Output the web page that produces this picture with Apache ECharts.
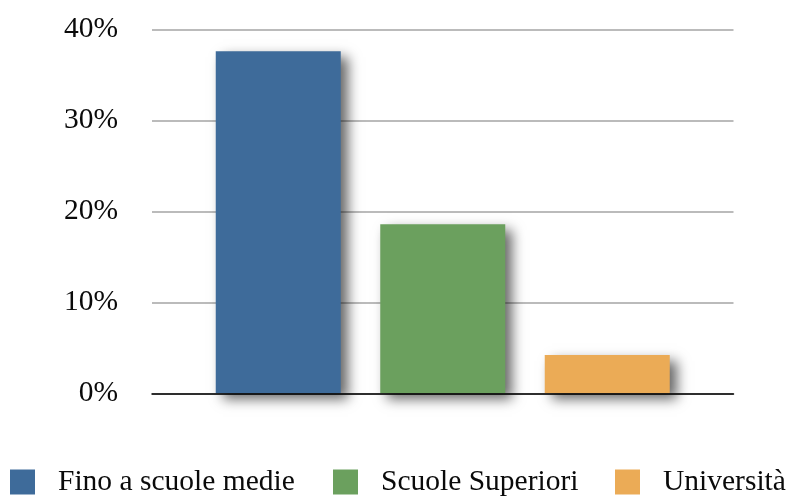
<!DOCTYPE html>
<html>
<head>
<meta charset="utf-8">
<script src="https://cdn.jsdelivr.net/npm/echarts@6/dist/echarts.min.js"></script>
<style>html,body{margin:0;padding:0;background:#fff}#c{width:790px;height:498px}</style>
</head>
<body>
<div id="c"></div>
<script>
const categories = [''];
const seriesNames = ['Fino a scuole medie', 'Scuole Superiori', 'Università'];
const seriesValues = [[37.6], [18.6], [4.2]];
const yTicks = { min: 0, max: 40, interval: 10 };
const colors = ['#3e6b9a', '#6ba05e', '#ebab56'];
const legendLefts = [10, 333, 615];

const font = '"Liberation Serif", "Times New Roman", serif';
const chart = echarts.init(document.getElementById('c'));
chart.setOption({
  animation: false,
  grid: { left: 152, right: 56.5, top: 29.5, bottom: 104.7 },
  legend: seriesNames.map((n, i) => ({
    left: legendLefts[i], top: 467, padding: 0,
    itemWidth: 25, itemHeight: 25,
    icon: 'rect', selectedMode: false,
    textStyle: { fontFamily: font, fontSize: 29.5, color: '#0a0a0a', padding: [0, 0, 0, 18] },
    data: [n]
  })),
  xAxis: {
    type: 'category', data: categories, z: 10,
    axisLine: { lineStyle: { color: '#000', width: 1.5 } },
    axisTick: { show: false }, axisLabel: { show: false }
  },
  yAxis: {
    type: 'value', min: yTicks.min, max: yTicks.max, interval: yTicks.interval,
    axisLine: { show: false }, axisTick: { show: false },
    splitLine: { lineStyle: { color: '#bbbbbb', width: 2 } },
    axisLabel: { formatter: '{value}%', fontFamily: font, fontSize: 29.5, color: '#0a0a0a', margin: 34, padding: [5, 0, 0, 0] }
  },
  series: seriesNames.map((n, i) => ({
    name: n, type: 'bar', data: seriesValues[i],
    barWidth: 125, barGap: '31.6%',
    itemStyle: { color: colors[i], shadowBlur: 12, shadowOffsetX: 7, shadowOffsetY: 6, shadowColor: 'rgba(0,0,0,0.6)' }
  }))
});
</script>
</body>
</html>
